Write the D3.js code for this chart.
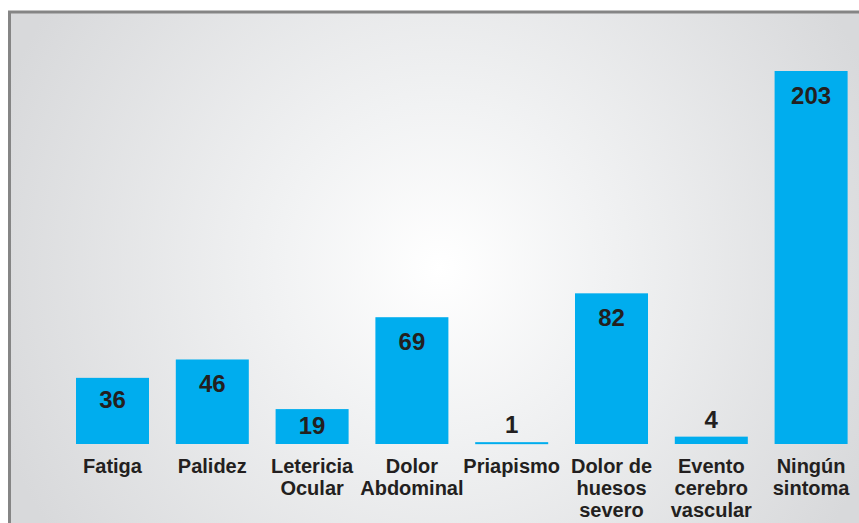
<!DOCTYPE html>
<html><head><meta charset="utf-8">
<script src="https://cdn.jsdelivr.net/npm/d3@7"></script>
<style>html,body{margin:0;padding:0;background:#fff;}svg{display:block;}</style>
</head><body>
<script>
const categories = ["Fatiga","Palidez","Letericia Ocular","Dolor Abdominal","Priapismo","Dolor de huesos severo","Evento cerebro vascular","Ningún sintoma"];
const labelLines = [["Fatiga"],["Palidez"],["Letericia","Ocular"],["Dolor","Abdominal"],["Priapismo"],["Dolor de","huesos","severo"],["Evento","cerebro","vascular"],["Ningún","sintoma"]];
const values = [36,46,19,69,1,82,4,203];

const W = 859, H = 523;
const svg = d3.select("body").append("svg").attr("width", W).attr("height", H);
const defs = svg.append("defs");
const grad = defs.append("radialGradient").attr("id","bg").attr("gradientUnits","userSpaceOnUse")
  .attr("cx",440).attr("cy",268).attr("r",470);
grad.append("stop").attr("offset","0").attr("stop-color","#ffffff");
grad.append("stop").attr("offset","0.35").attr("stop-color","#f1f2f3");
grad.append("stop").attr("offset","1").attr("stop-color","#d8d9db");

svg.append("rect").attr("x",9).attr("y",12).attr("width",W-9).attr("height",H-12).attr("fill","url(#bg)");
svg.append("line").attr("x1",9.5).attr("x2",9.5).attr("y1",11).attr("y2",H).attr("stroke","#858585").attr("stroke-width",3);
svg.append("line").attr("x1",8).attr("x2",W).attr("y1",12).attr("y2",12).attr("stroke","#858585").attr("stroke-width",3);

const step = 99.8, pad = 0.2685;
const x0 = 76 - step*pad/2;
const x = d3.scaleBand().domain(categories).range([x0, x0 + step*categories.length]).paddingInner(pad).paddingOuter(pad/2);
const y = d3.scaleLinear().domain([0,203]).range([444,71]);

const g = svg.append("g");
g.selectAll("rect.bar").data(values).join("rect").attr("class","bar")
  .attr("x",(d,i)=>x(categories[i])).attr("width",x.bandwidth())
  .attr("y",d=>y(d)).attr("height",d=>Math.max(2,y(0)-y(d))).attr("fill","#00adee");

g.selectAll("text.val").data(values).join("text").attr("class","val")
  .attr("x",(d,i)=>x(categories[i])+x.bandwidth()/2)
  .attr("y",d=>{const h=y(0)-y(d); if(h<20) return y(d)-9; if(h<45) return (y(d)+y(0))/2+7; return y(d)+(h<80?30:33);})
  .attr("text-anchor","middle").attr("font-family","'Liberation Sans', Arial, sans-serif")
  .attr("font-weight","bold").attr("font-size",24).attr("fill","#231f20").text(d=>d);

const lab = g.selectAll("text.cat").data(labelLines).join("text").attr("class","cat")
  .attr("text-anchor","middle").attr("font-family","'Liberation Sans', Arial, sans-serif")
  .attr("font-weight","bold").attr("font-size",20).attr("fill","#231f20");
lab.each(function(lines,i){
  const t = d3.select(this);
  lines.forEach((l,j)=>{
    t.append("tspan").attr("x", x(categories[i])+x.bandwidth()/2).attr("y", 473 + j*21.8).text(l);
  });
});
</script>
</body></html>
